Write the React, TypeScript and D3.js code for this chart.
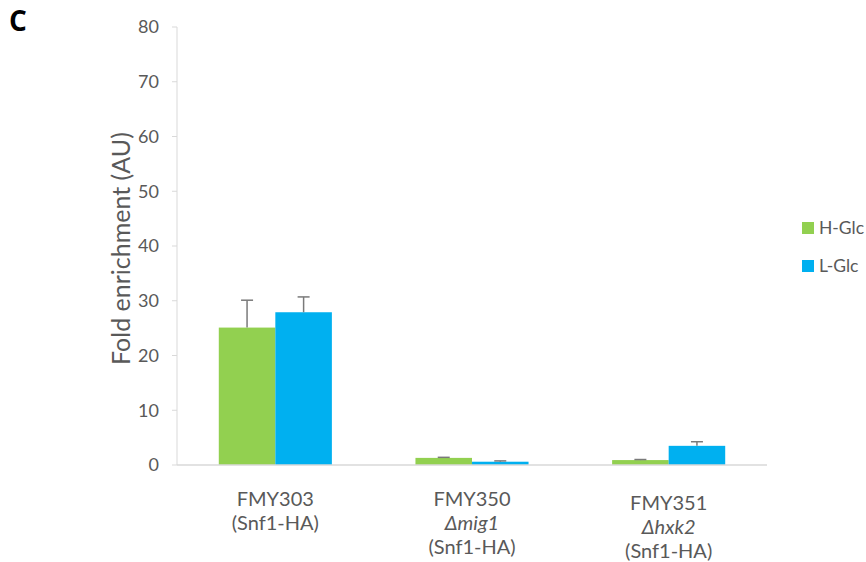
import React from "react";
import * as d3 from "d3";

// Strains (multi-line category labels; italic lines flagged)
const categories = ["FMY303", "FMY350", "FMY351"];
const categoryLines: { text: string; italic: boolean }[][] = [
  [
    { text: "FMY303", italic: false },
    { text: "(Snf1-HA)", italic: false },
  ],
  [
    { text: "FMY350", italic: false },
    { text: "\u0394mig1", italic: true },
    { text: "(Snf1-HA)", italic: false },
  ],
  [
    { text: "FMY351", italic: false },
    { text: "\u0394hxk2", italic: true },
    { text: "(Snf1-HA)", italic: false },
  ],
];
const seriesNames = ["H-Glc", "L-Glc"];
const hGlc = [25.1, 1.3, 0.9];
const lGlc = [27.9, 0.6, 3.5];
const hGlcErr = [5.0, 0.1, 0.1];
const lGlcErr = [2.8, 0.15, 0.75];
const yTicks = [0, 10, 20, 30, 40, 50, 60, 70, 80];

const colors = ["#92d050", "#00b0f0"];
const FONT = "Lato, 'Open Sans', sans-serif";
const TEXT = "#595959";

export default function App() {
  const width = 866;
  const height = 562;
  const left = 177;
  const right = 767;
  const top = 27;
  const bottom = 465;

  const y = d3.scaleLinear().domain([0, 80]).range([bottom, top]);
  const x0 = d3.scaleBand<string>().domain(categories).range([left, right]).paddingInner(0.425).paddingOuter(0.2125);
  const x1 = d3.scaleBand<string>().domain(seriesNames).range([0, x0.bandwidth()]);

  const values = [hGlc, lGlc];
  const errs = [hGlcErr, lGlcErr];
  // third group's labels sit slightly lower
  const labelOffsets = [0, 0, 4];

  return (
    <svg
      width={width}
      height={height}
      style={{ position: "absolute", left: 0, top: 0, background: "#fff" }}
      fontFamily={FONT}
    >
      <text x={9} y={31} fontSize={28} fontWeight="bold" fill="#000" fontFamily="'Open Sans', sans-serif">
        C
      </text>

      {/* y axis */}
      <line x1={left} x2={left} y1={top} y2={bottom} stroke="#d9d9d9" strokeWidth={1} />
      {yTicks.map((t) => (
        <g key={t}>
          <line x1={left - 5} x2={left} y1={y(t)} y2={y(t)} stroke="#d9d9d9" />
          <text x={left - 18} y={y(t)} dy="0.36em" textAnchor="end" fontSize={18} fill={TEXT}>
            {t}
          </text>
        </g>
      ))}
      <text
        transform={`translate(${130},${365}) rotate(-90)`}
        textAnchor="start"
        fontSize={25}
        fill={TEXT}
      >
        Fold enrichment (AU)
      </text>

      {/* bars */}
      {categories.map((c, i) => (
        <g key={c} transform={`translate(${x0(c)},0)`}>
          {seriesNames.map((s, j) => {
            const v = values[j][i];
            const e = errs[j][i];
            const bx = x1(s)!;
            const cx = bx + x1.bandwidth() / 2;
            return (
              <g key={s}>
                <rect x={bx} y={y(v)} width={x1.bandwidth()} height={y(0) - y(v)} fill={colors[j]} />
                <line x1={cx} x2={cx} y1={y(v)} y2={y(v + e)} stroke="#7a7a7a" strokeWidth={1.5} />
                <line x1={cx - 6} x2={cx + 6} y1={y(v + e)} y2={y(v + e)} stroke="#7a7a7a" strokeWidth={1.5} />
              </g>
            );
          })}
        </g>
      ))}

      {/* x baseline */}
      <line x1={left} x2={right} y1={bottom} y2={bottom} stroke="#d9d9d9" strokeWidth={1.5} />

      {/* category labels */}
      {categories.map((c, i) => (
        <text
          key={c}
          x={x0(c)! + x0.bandwidth() / 2}
          y={506 + labelOffsets[i]}
          textAnchor="middle"
          fontSize={20}
          fill={TEXT}
        >
          {categoryLines[i].map((ln, k) => (
            <tspan
              key={k}
              x={x0(c)! + x0.bandwidth() / 2}
              dy={k === 0 ? 0 : 24}
              fontStyle={ln.italic ? "italic" : "normal"}
            >
              {ln.text}
            </tspan>
          ))}
        </text>
      ))}

      {/* legend */}
      {seriesNames.map((s, j) => (
        <g key={s} transform={`translate(802,${222 + j * 38})`}>
          <rect width={12} height={12} fill={colors[j]} />
          <text x={17} y={6} dy="0.36em" fontSize={17.5} fill={TEXT}>
            {s}
          </text>
        </g>
      ))}
    </svg>
  );
}
